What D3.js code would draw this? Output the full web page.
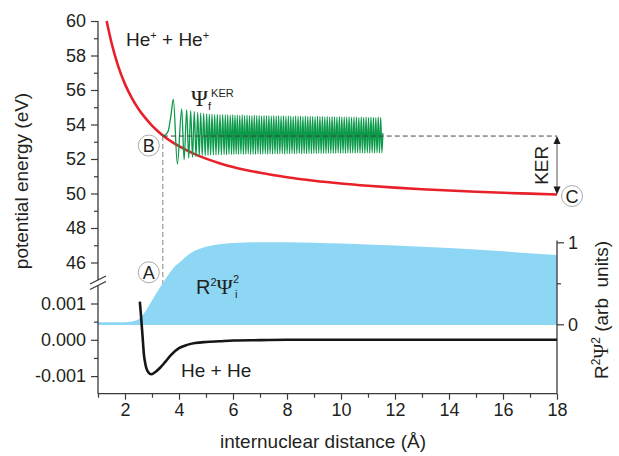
<!DOCTYPE html>
<html><head><meta charset="utf-8">
<script src="https://cdn.jsdelivr.net/npm/d3@7"></script>
<style>
body{margin:0;background:#fff}
svg{display:block}
text{font-family:"Liberation Sans",Arial,sans-serif;fill:#231f20;white-space:pre}
.serif{font-family:"Liberation Serif","Times New Roman",serif}
</style>
</head><body><svg id="c" width="619" height="456"></svg>
<script>
// ---------- data ----------
const xTicks=[2,4,6,8,10,12,14,16,18];
const xMinorTicks=[1,3,5,7,9,11,13,15,17];
const upperTicks=[46,48,50,52,54,56,58,60];
const upperMinorTicks=[47,49,51,53,55,57,59];
const lowerTicks=[-0.001,0,0.001];
const lowerTickLabels=["-0.001","0.000","0.001"];
const lowerMinorTicks=[-0.0005,0.0005];
const rightTicks=[0,1];
const rightMinorTicks=[0.5];

// He+ + He+ potential (eV)
const ionR=[1.32,1.5,1.75,2,2.25,2.5,2.75,3,3.25,3.5,3.75,4,4.5,5,5.5,6,7,8,9,10,11,12,13,14,15,16,17,18];
const ionE=[60.0,58.74,57.37,56.34,55.54,54.90,54.38,53.94,53.57,53.25,52.98,52.74,52.34,52.02,51.76,51.54,51.20,50.94,50.74,50.58,50.45,50.34,50.25,50.17,50.10,50.04,49.99,49.94];

// He + He potential (eV)
const neutralR=[2.55,2.6,2.65,2.7,2.75,2.8,2.87,2.97,3.1,3.3,3.5,3.7,4.0,4.3,4.6,5.0,5.5,6,7,8,18];
const neutralE=[0.00105,0.0006,0.0001,-0.0004,-0.00065,-0.0008,-0.0009,-0.00095,-0.0009,-0.00077,-0.0006,-0.00042,-0.00023,-0.00014,-0.00009,-0.00006,-0.00004,-0.00002,-0.00001,0,0];

// R^2 Psi_i^2 (arb units)
const probR=[1.0,2.0,2.2,2.4,2.6,2.8,3.0,3.2,3.4,3.6,3.8,4.0,4.2,4.4,4.6,4.8,5.0,5.5,6.0,6.5,7.0,8,9,10,12,14,16,18];
const probV=[0.025,0.025,0.03,0.045,0.09,0.18,0.29,0.40,0.50,0.60,0.69,0.75,0.81,0.86,0.90,0.925,0.945,0.975,0.99,0.998,1.0,1.0,0.995,0.985,0.96,0.93,0.89,0.845];

// Psi_f^KER extrema (R, energy-scale position)
const kerPts=[[3.40,53.33],[3.50,53.40],[3.60,53.62],[3.70,54.5],[3.79,55.47],[3.94,51.70],
[4.10,54.90],[4.19,51.95],[4.285,54.85],[4.36,52.05],[4.433,54.80],[4.50,52.10],[4.567,54.74],[4.63,52.14],
[4.693,54.70],[4.75,52.17],[4.804,54.66],[4.86,52.20],[4.915,54.64],[4.97,52.20],[5.026,54.62],[5.075,52.22],
[5.122,54.60],[5.17,52.23],[5.222,54.60],[5.27,52.24],[5.322,54.57],[5.37,52.24],[5.419,54.58],[5.47,52.25],
[5.519,54.56],[5.57,52.24],[5.619,54.57],[5.67,52.26],[5.715,54.55],[5.76,52.25],[5.804,54.56],[5.85,52.27],
[5.90,54.54],[5.945,52.26],[5.989,54.55],[6.03,52.27],[6.074,54.53],
[6.117,52.28],[6.16,54.54],[6.205,52.27],[6.25,54.52],[6.295,52.29],[6.34,54.55],[6.385,52.27],[6.43,54.51],
[6.475,52.28],[6.52,54.53],[6.565,52.30],[6.61,54.52],[6.655,52.27],[6.70,54.50],[6.745,52.29],[6.79,54.53],
[6.835,52.28],[6.88,54.51],[6.925,52.30],[6.97,54.52],[7.015,52.28],[7.06,54.49],[7.105,52.29],[7.15,54.52],
[7.195,52.31],[7.24,54.50],[7.285,52.28],[7.33,54.51],[7.375,52.30],[7.42,54.48],[7.465,52.29],[7.51,54.51],
[7.555,52.31],[7.60,54.49],[7.645,52.29],[7.69,54.50],[7.735,52.30],[7.78,54.48],[7.825,52.32],[7.87,54.50],
[7.915,52.29],[7.96,54.47],[8.005,52.31],[8.05,54.49],[8.095,52.30],[8.14,54.48],[8.185,52.32],[8.23,54.46],
[8.275,52.30],[8.32,54.49],[8.365,52.31],[8.41,54.47],[8.455,52.33],[8.50,54.48],[8.545,52.30],[8.59,54.46],
[8.635,52.32],[8.68,54.48],[8.725,52.31],[8.77,54.45],[8.815,52.33],[8.86,54.47],[8.905,52.31],[8.95,54.46],
[8.995,52.33],[9.04,54.44],[9.085,52.32],[9.13,54.47],[9.175,52.34],[9.22,54.45],[9.265,52.31],[9.31,54.46],
[9.355,52.33],[9.40,54.44],[9.445,52.32],[9.49,54.46],[9.535,52.34],[9.58,54.43],[9.625,52.32],[9.67,54.45],
[9.715,52.34],[9.76,54.44],[9.805,52.33],[9.85,54.42],[9.895,52.35],[9.94,54.45],[9.985,52.33],[10.03,54.43],
[10.075,52.34],[10.12,54.44],[10.165,52.33],[10.21,54.42],[10.255,52.35],[10.30,54.44],[10.345,52.33],[10.39,54.41],
[10.435,52.35],[10.48,54.43],[10.525,52.34],[10.57,54.42],[10.615,52.36],[10.66,54.40],[10.705,52.34],[10.75,54.43],
[10.795,52.35],[10.84,54.41],[10.885,52.34],[10.93,54.42],[10.975,52.36],[11.02,54.40],[11.065,52.34],[11.11,54.42],
[11.155,52.36],[11.20,54.41],[11.245,52.35],[11.29,54.40],[11.335,52.36],[11.38,54.42],[11.425,52.35],[11.47,54.40],
[11.515,52.36],[11.55,53.5]];

const kerLevel=53.33;   // energy at point B
const kerStartR=3.40;

// ---------- drawing ----------
const svg=d3.select("#c");
const x=d3.scaleLinear([1,18],[98,557]);
const yTop=d3.scaleLinear([45,60],[279.75,21]);
const yBot=d3.scaleLinear([-0.001,0.001],[376.1,303.5]);
const yR=d3.scaleLinear([0,1],[324.3,242.3]);
const axisCol="#3a3a3a";
const bottomY=393.7;

function styleAxis(g){
  g.select(".domain").remove();
  g.selectAll(".tick line").attr("stroke",axisCol).attr("stroke-width",1.2);
  g.selectAll(".tick text").style("font-size","18px").attr("fill","#231f20").style("font-family",'"Liberation Sans",Arial,sans-serif');
}

// vertical dashed line A-B (drawn under the blue area)
svg.append("line").attr("x1",x(kerStartR)).attr("x2",x(kerStartR))
  .attr("y1",yTop(kerLevel)).attr("y2",300)
  .attr("stroke","#9a9a9a").attr("stroke-width",1.2).attr("stroke-dasharray","5,3");

// blue area
const area=d3.area().x((d,i)=>x(probR[i])).y0(yR(-0.008)).y1((d,i)=>yR(d)).curve(d3.curveMonotoneX);
svg.append("path").attr("d",area(probV)).attr("fill","#8dd7f5");

// axes
svg.append("g").attr("transform",`translate(0,${bottomY})`)
  .call(d3.axisBottom(x).tickValues(xTicks).tickSize(6).tickPadding(4).tickSizeOuter(0)).call(styleAxis);
svg.append("g").attr("transform",`translate(0,${bottomY})`)
  .call(d3.axisBottom(x).tickValues(xMinorTicks).tickSize(4).tickFormat("").tickSizeOuter(0)).call(styleAxis);

svg.append("g").attr("transform","translate(98,0)")
  .call(d3.axisLeft(yTop).tickValues(upperTicks).tickSize(7).tickPadding(5).tickSizeOuter(0)).call(styleAxis);
svg.append("g").attr("transform","translate(98,0)")
  .call(d3.axisLeft(yTop).tickValues(upperMinorTicks).tickSize(4).tickFormat("").tickSizeOuter(0)).call(styleAxis);
svg.append("g").attr("transform","translate(98,0)")
  .call(d3.axisLeft(yBot).tickValues(lowerTicks).tickSize(7).tickPadding(5)
    .tickFormat((d,i)=>lowerTickLabels[i]).tickSizeOuter(0)).call(styleAxis);
svg.append("g").attr("transform","translate(98,0)")
  .call(d3.axisLeft(yBot).tickValues(lowerMinorTicks).tickSize(4).tickFormat("").tickSizeOuter(0)).call(styleAxis);

svg.append("g").attr("transform","translate(557,0)")
  .call(d3.axisRight(yR).tickValues(rightTicks).tickSize(7).tickPadding(4).tickFormat(d3.format("d")).tickSizeOuter(0)).call(styleAxis);
svg.append("g").attr("transform","translate(557,0)")
  .call(d3.axisRight(yR).tickValues(rightMinorTicks).tickSize(4).tickFormat("").tickSizeOuter(0)).call(styleAxis);

// axis lines
const al=(x1,y1,x2,y2)=>svg.append("line").attr("x1",x1).attr("y1",y1).attr("x2",x2).attr("y2",y2)
  .attr("stroke",axisCol).attr("stroke-width",1.3);
al(98,bottomY,557,bottomY);
al(98,yTop(60),98,280);
al(98,285.5,98,bottomY);
al(557,240.5,557,bottomY);
// break marks
al(90,284,106,276);
al(90,289.5,106,281.5);

// He + He curve
const lineN=d3.line().x((d,i)=>x(neutralR[i])).y(d=>yBot(d)).curve(d3.curveMonotoneX);
svg.append("path").attr("d",lineN(neutralE)).attr("fill","none").attr("stroke","#161616").attr("stroke-width",2.6);

// He+ + He+ curve
const lineI=d3.line().x((d,i)=>x(ionR[i])).y(d=>yTop(d)).curve(d3.curveMonotoneX);
svg.append("path").attr("d",lineI(ionE)).attr("fill","none").attr("stroke","#e8202a").attr("stroke-width",2.6);

// Psi_f KER wave
const lineK=d3.line().x(d=>x(d[0])).y(d=>yTop(d[1])).curve(d3.curveMonotoneX);
svg.append("path").attr("d",lineK(kerPts)).attr("fill","none").attr("stroke","#0b9a4a").attr("stroke-width",1.3);

// horizontal dashed line at KER level
svg.append("line").attr("x1",x(kerStartR)).attr("x2",x(18))
  .attr("y1",yTop(kerLevel)).attr("y2",yTop(kerLevel))
  .attr("stroke","#444").attr("stroke-width",1).attr("stroke-dasharray","5,3");

// KER arrow
const ay1=yTop(kerLevel), ay2=yTop(ionE[ionE.length-1]);
svg.append("line").attr("x1",x(18)).attr("x2",x(18)).attr("y1",ay1+6).attr("y2",ay2-6).attr("stroke","#555").attr("stroke-width",1);
svg.append("path").attr("d",`M${x(18)},${ay1} l-3.5,8 h7 z`).attr("fill","#1a1a1a");
svg.append("path").attr("d",`M${x(18)},${ay2} l-3.5,-8 h7 z`).attr("fill","#1a1a1a");
svg.append("text").attr("transform",`translate(548,${(ay1+ay2)/2}) rotate(-90)`).attr("text-anchor","middle")
  .style("font-size","19px").text("KER");

// circle labels
function circ(cx,cy,l){
  svg.append("circle").attr("cx",cx).attr("cy",cy).attr("r",10.5).attr("fill","#fff").attr("stroke","#a0a0a0").attr("stroke-width",0.9);
  svg.append("text").attr("x",cx).attr("y",cy+6.5).attr("text-anchor","middle").style("font-size","18px").text(l);
}
circ(x(kerStartR)-14,272.3,"A");
circ(x(kerStartR)-14,yTop(kerLevel)+9.5,"B");
circ(x(18)+15,ay2+1.5,"C");

// annotations
function sup(t,txt,dy,size){return t.append("tspan").attr("dy",dy).style("font-size",size+"px").text(txt);}
let t=svg.append("text").attr("x",126).attr("y",46).style("font-size","19px");
t.append("tspan").text("He"); sup(t,"+",-7,11); t.append("tspan").attr("dy",7).text(" + He"); sup(t,"+",-7,11);

t=svg.append("text").attr("x",181).attr("y",376.5).style("font-size","19px").text("He + He");

t=svg.append("text").attr("x",191).attr("y",106);
t.append("tspan").attr("class","serif").style("font-size","23px").text("Ψ");
t.append("tspan").attr("dy",4).style("font-size","11px").text("f");
t.append("tspan").attr("dy",-13).style("font-size","11px").text("KER");

t=svg.append("text").attr("x",196).attr("y",294);
t.append("tspan").style("font-size","20px").text("R");
t.append("tspan").attr("dy",-8).style("font-size","11px").text("2");
t.append("tspan").attr("dy",8).attr("class","serif").style("font-size","22px").text("Ψ");
t.append("tspan").attr("x",235).attr("dy",4).style("font-size","11px").text("i");
t.append("tspan").attr("x",233).attr("dy",-15).style("font-size","11px").text("2");

// axis titles
svg.append("text").attr("x",323).attr("y",448).attr("text-anchor","middle").style("font-size","19px").text("internuclear distance (Å)");
svg.append("text").attr("transform","translate(28,181) rotate(-90)").attr("text-anchor","middle").style("font-size","19px").text("potential energy (eV)");
t=svg.append("text").attr("transform","translate(608,310) rotate(-90)").attr("text-anchor","middle").style("font-size","19px");
t.append("tspan").text("R"); sup(t,"2",-8,12); t.append("tspan").attr("dy",8).attr("class","serif").style("font-size","20px").text("Ψ");
sup(t,"2",-8,12); t.append("tspan").attr("dy",8).text(" (arb  units)");
</script></body></html>
